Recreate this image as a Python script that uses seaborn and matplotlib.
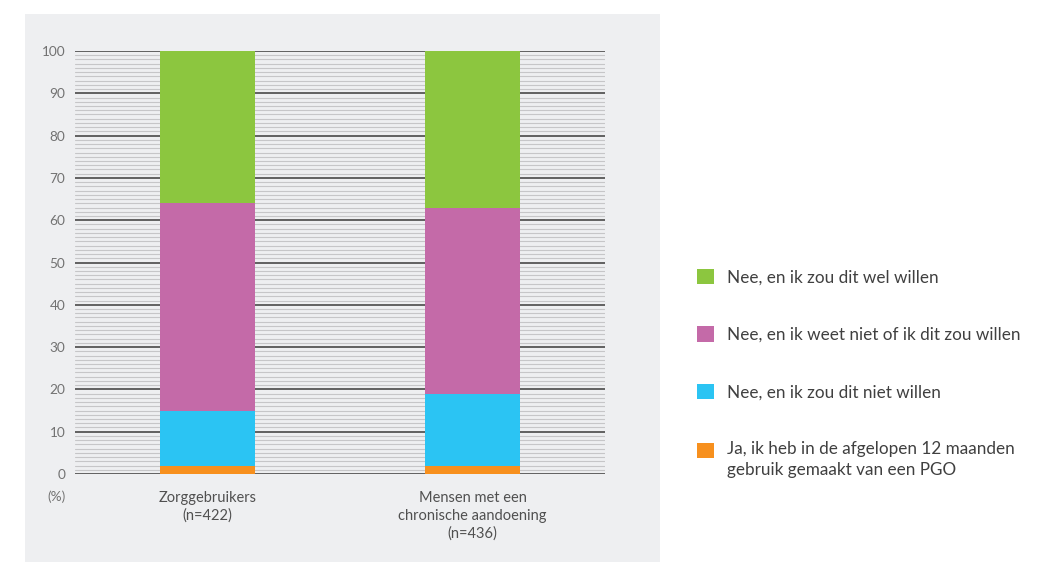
import matplotlib
matplotlib.use("Agg")
import matplotlib.pyplot as plt
from matplotlib.patches import Patch, Rectangle
from matplotlib.legend_handler import HandlerPatch
from matplotlib.ticker import MultipleLocator
import numpy as np
import pandas as pd
import seaborn as sns

# Survey answers per group (percentages, stacked bottom to top)
groups = ["Zorggebruikers\n(n=422)", "Mensen met een\nchronische aandoening\n(n=436)"]
ja_gebruikt = [2, 2]
nee_niet_willen = [13, 17]
nee_weet_niet = [49, 44]
nee_wel_willen = [36, 37]

series_labels = [
    "Ja, ik heb in de afgelopen 12 maanden\ngebruik gemaakt van een PGO",
    "Nee, en ik zou dit niet willen",
    "Nee, en ik weet niet of ik dit zou willen",
    "Nee, en ik zou dit wel willen",
]
series_values = [ja_gebruikt, nee_niet_willen, nee_weet_niet, nee_wel_willen]
series_colors = ["#f7901e", "#2bc4f3", "#c46aa8", "#8cc63f"]

panel_color = "#eeeff1"


class TopAlignedPatch(HandlerPatch):
    """Legend square lifted so it sits beside the first line of a wrapped label."""

    def __init__(self, lift=0.0, **kw):
        super().__init__(**kw)
        self.lift = lift

    def create_artists(self, legend, orig_handle, xdescent, ydescent,
                       width, height, fontsize, trans):
        p = Rectangle((-xdescent, -ydescent + self.lift), width, height,
                      facecolor=orig_handle.get_facecolor(), edgecolor="none",
                      transform=trans)
        return [p]


sns.set_theme(style="white")
plt.rcParams["font.family"] = ["Lato", "DejaVu Sans"]

fig = plt.figure(figsize=(10.45, 5.63), dpi=100)
fig.patch.set_facecolor("white")
fig.patches.append(Rectangle((25 / 1045, 1 - 562 / 563), 635 / 1045, 548 / 563,
                             transform=fig.transFigure, facecolor=panel_color,
                             edgecolor="none", zorder=-5))

ax = fig.add_axes([75 / 1045, 1 - 474 / 563, 530 / 1045, 423 / 563])
ax.set_facecolor("none")
ax.set_zorder(2)

# Cumulative tops so each layer is drawn from the baseline, tallest first
cum = np.cumsum(np.array(series_values), axis=0)
for i in range(len(series_values) - 1, -1, -1):
    df = pd.DataFrame({"group": groups, "value": cum[i]})
    sns.barplot(data=df, x="group", y="value", color=series_colors[i],
                width=0.36, saturation=1, edgecolor="none", linewidth=0,
                ax=ax, zorder=3)

ax.set_xlim(-0.5, 1.5)
ax.set_ylim(0, 100)
ax.yaxis.set_major_locator(MultipleLocator(10))
ax.yaxis.set_minor_locator(MultipleLocator(1))
ax.grid(which="minor", axis="y", color="#c6c6c8", linewidth=0.8, zorder=1)
ax.grid(which="major", axis="y", color="#3a3a3a", linewidth=1.1, zorder=2)
ax.set_axisbelow(True)
for s in ax.spines.values():
    s.set_visible(False)

ax.set_xlabel("")
ax.set_ylabel("")
ax.tick_params(axis="both", which="both", length=0)
ax.tick_params(axis="y", labelsize=9.8, labelcolor="#727272", pad=7)
ax.tick_params(axis="x", labelsize=10.5, labelcolor="#505050", pad=12)
ax.set_yticks(range(0, 101, 10))
ax.set_yticklabels([str(v) for v in range(0, 101, 10)])
for t in ax.get_xticklabels():
    t.set_linespacing(1.35)

ax.text(-0.034, -0.054, "(%)", transform=ax.transAxes, ha="center", va="center",
        fontsize=9.8, color="#727272")

handles = [Patch(facecolor=c, edgecolor="none") for c in series_colors[::-1]]
handler_map = {handles[-1]: TopAlignedPatch(lift=7.0)}
fig.legend(handles, series_labels[::-1], loc="upper left",
           bbox_to_anchor=(697 / 1045, 1 - 269 / 563), frameon=False,
           fontsize=12.3, labelcolor="#404040", handlelength=1.0,
           handleheight=1.0, handletextpad=0.75, labelspacing=2.4,
           borderaxespad=0, borderpad=0, handler_map=handler_map)
for t in fig.legends[0].get_texts():
    t.set_linespacing(1.35)

fig.savefig("out.png", dpi=100, facecolor="white")
